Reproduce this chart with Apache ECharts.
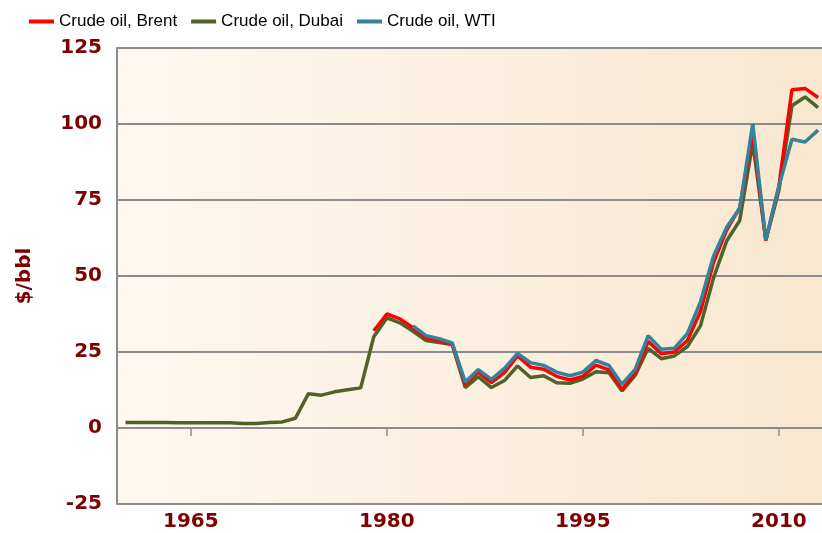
<!DOCTYPE html>
<html>
<head>
<meta charset="utf-8">
<script src="https://cdn.jsdelivr.net/npm/echarts@6/dist/echarts.min.js"></script>
<style>
  html, body { margin: 0; padding: 0; background: #fff; }
  #main { width: 822px; height: 533px; }
</style>
</head>
<body>
<div id="main"></div>
<script>
// annual prices, $/bbl
var years = [1960,1961,1962,1963,1964,1965,1966,1967,1968,1969,
             1970,1971,1972,1973,1974,1975,1976,1977,1978,1979,
             1980,1981,1982,1983,1984,1985,1986,1987,1988,1989,
             1990,1991,1992,1993,1994,1995,1996,1997,1998,1999,
             2000,2001,2002,2003,2004,2005,2006,2007,2008,2009,
             2010,2011,2012,2013]
var brent = [null,null,null,null,null,null,null,null,null,null,
             null,null,null,null,null,null,null,null,null,32.0,
             37.5,35.9,33.0,29.6,28.7,27.6,14.4,18.4,14.9,18.2,
             23.7,20.0,19.3,17.0,15.8,17.0,20.7,19.1,12.7,18.0,
             28.5,24.4,25.0,28.8,38.3,54.5,65.1,72.4,97.3,61.7,
             79.5,111.3,111.7,108.7]
var dubai = [1.8,1.8,1.8,1.8,1.7,1.7,1.7,1.7,1.7,1.5,
             1.5,1.8,2.0,3.2,11.3,10.8,11.9,12.6,13.2,30.0,
             36.2,34.6,31.8,28.8,28.1,27.5,13.3,16.9,13.3,15.6,
             20.4,16.6,17.2,14.9,14.7,16.1,18.5,18.2,12.2,17.3,
             26.2,22.8,23.7,26.8,33.6,49.4,61.5,68.2,93.8,61.8,
             78.1,106.0,108.9,105.4]
var wti = [null,null,null,null,null,null,null,null,null,null,
           null,null,null,null,null,null,null,null,null,null,
           null,null,33.6,30.4,29.4,28.0,15.1,19.2,16.0,19.6,
           24.5,21.5,20.6,18.4,17.2,18.4,22.2,20.6,14.4,19.3,
           30.4,25.9,26.2,31.1,41.5,56.6,66.0,72.2,100.1,61.9,
           79.5,95.0,94.1,98.0]
var xTicks = [1965, 1980, 1995, 2010]

function pairs(vals) {
  return years.map(function (y, i) { return [y, vals[i]] })
}

var labelColor = '#7f0000'
var myChart = echarts.init(document.getElementById('main'))
var option = {
  animation: false,
  legend: {
    top: 8,
    left: 24,
    itemGap: 14,
    itemWidth: 25,
    itemHeight: 4,
    icon: 'rect',
    data: ['Crude oil, Brent', 'Crude oil, Dubai', 'Crude oil, WTI'],
    textStyle: {
      fontFamily: '"Liberation Sans", sans-serif',
      fontSize: 17,
      color: '#000'
    }
  },
  grid: {
    left: 117,
    right: 0,
    top: 48,
    bottom: 29,
    show: true,
    borderWidth: 0,
    backgroundColor: new echarts.graphic.LinearGradient(0, 0, 1, 0, [
      {offset: 0, color: '#fdf8f1'},
      {offset: 1, color: '#f9e7cf'}
    ])
  },
  xAxis: {
    type: 'value',
    min: 1959.35,
    max: 2013.3,
    splitLine: {show: false},
    axisLine: {show: true, lineStyle: {color: '#8c8c8c', width: 2}},
    axisTick: {show: true, customValues: xTicks, length: 8, lineStyle: {color: '#8c8c8c', width: 1.5}},
    axisLabel: {
      customValues: xTicks,
      formatter: function (v) { return String(v) },
      margin: 8,
      color: labelColor,
      fontFamily: 'DejaVu Sans',
      fontWeight: 'bold',
      fontSize: 20
    }
  },
  yAxis: {
    type: 'value',
    min: -25,
    max: 125,
    interval: 25,
    name: '$/bbl',
    nameLocation: 'middle',
    nameGap: 82,
    nameRotate: 90,
    nameTextStyle: {
      color: labelColor,
      fontFamily: 'DejaVu Sans',
      fontWeight: 'bold',
      fontSize: 20
    },
    axisLine: {show: true, lineStyle: {color: '#8c8c8c', width: 2}},
    axisTick: {show: false},
    splitLine: {lineStyle: {color: '#8c8c8c', width: 2}},
    axisLabel: {
      margin: 15,
      color: labelColor,
      fontFamily: 'DejaVu Sans',
      fontWeight: 'bold',
      fontSize: 20
    }
  },
  series: [
    {
      name: 'Crude oil, Dubai',
      type: 'line',
      data: pairs(dubai),
      showSymbol: false,
      color: '#4f6228',
      lineStyle: {width: 3.5, color: '#4f6228'}
    },
    {
      name: 'Crude oil, Brent',
      type: 'line',
      data: pairs(brent),
      showSymbol: false,
      color: '#ff0000',
      lineStyle: {width: 3.5, color: '#ff0000'}
    },
    {
      name: 'Crude oil, WTI',
      type: 'line',
      data: pairs(wti),
      showSymbol: false,
      color: '#31849b',
      lineStyle: {width: 3.5, color: '#31849b'}
    }
  ]
}
myChart.setOption(option)
</script>
</body>
</html>
